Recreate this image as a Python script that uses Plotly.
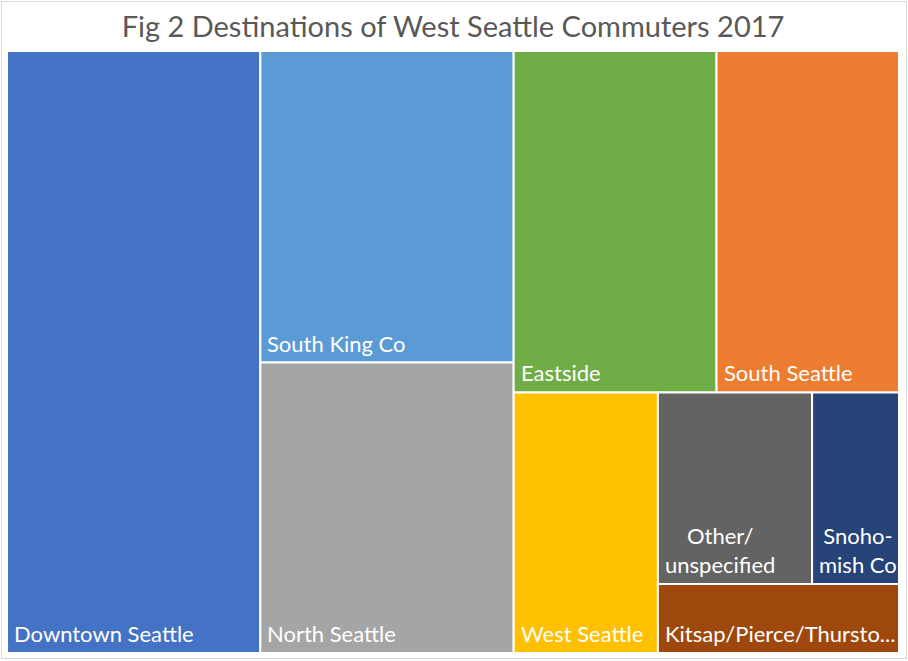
import plotly.graph_objects as go

# ---- data ----
categories = ["Downtown Seattle", "South King Co", "North Seattle", "Eastside",
              "South Seattle", "West Seattle", "Other/unspecified", "Snohomish Co",
              "Kitsap/Pierce/Thurston"]
values = [28.4, 14.7, 13.7, 12.9, 11.6, 7.0, 5.5, 3.1, 3.1]
display_labels = ["Downtown Seattle", "South King Co", "North Seattle", "Eastside",
                  "South Seattle", "West Seattle", "Other/<br>unspecified", "Snoho-<br>mish Co",
                  "Kitsap/Pierce/Thursto..."]
colors = ["#4472C4", "#5B9BD5", "#A5A5A5", "#70AD47", "#ED7D31",
          "#FFC000", "#636363", "#264478", "#9E480E"]
# number of items placed in each successive strip of the layout
strip_sizes = [1, 2, 2, 1, 2, 1]

# ---- figure geometry ----
W_PX, H_PX = 908, 661
ML, MR, MT, MB = 7, 9, 51, 8
plot_w = W_PX - ML - MR
plot_h = H_PX - MT - MB
X_MAX, Y_MAX = plot_w / plot_h, 1.0
scale = X_MAX * Y_MAX / sum(values)

# ---- strip-based treemap layout computed from the values ----
rects = []
x0, y0, x1, y1 = 0.0, 0.0, X_MAX, Y_MAX
i = 0
for n in strip_sizes:
    group = values[i:i + n]
    area = sum(group) * scale
    w, h = x1 - x0, y1 - y0
    if h <= w:
        thick = area / h
        cy = y0
        for v in group:
            hh = v * scale / thick
            rects.append((x0, cy, x0 + thick, cy + hh))
            cy += hh
        x0 += thick
    else:
        thick = area / w
        cx = x0
        for v in group:
            ww = v * scale / thick
            rects.append((cx, y0, cx + ww, y0 + thick))
            cx += ww
        y0 += thick
    i += n

fig = go.Figure()
annotations = []
FONT = "Lato, 'Open Sans', sans-serif"
for (rx0, ry0, rx1, ry1), cat, lab, col, val in zip(rects, categories, display_labels, colors, values):
    fig.add_trace(go.Scatter(
        x=[rx0, rx1, rx1, rx0, rx0], y=[ry0, ry0, ry1, ry1, ry0],
        mode="lines", fill="toself", fillcolor=col,
        line=dict(color="white", width=2),
        name=cat, text=f"{cat}: {val}", hoverinfo="text", showlegend=False))
    multi = "<br>" in lab
    annotations.append(dict(
        x=rx0, y=ry1, xref="x", yref="y", text=lab, showarrow=False,
        xanchor="left", yanchor="bottom", align="center" if multi else "left",
        xshift=5, yshift=4,
        font=dict(family=FONT, size=22, color="white")))

# light outer chart border
border_x0 = (1.5 - ML) / plot_w
border_x1 = (906.5 - ML) / plot_w
border_yt = (H_PX - MB - 1.5) / plot_h
border_yb = (H_PX - MB - 658.5) / plot_h

fig.update_layout(
    width=W_PX, height=H_PX, autosize=False,
    margin=dict(l=ML, r=MR, t=MT, b=MB, pad=0),
    paper_bgcolor="white", plot_bgcolor="white",
    title=dict(text="Fig 2 Destinations of West Seattle Commuters 2017",
               x=0.5, xanchor="center", xref="paper",
               y=1 - 27 / H_PX, yref="container", yanchor="middle",
               font=dict(family=FONT, size=29, color="#595959")),
    xaxis=dict(range=[0, X_MAX], visible=False, fixedrange=True),
    yaxis=dict(range=[Y_MAX, 0], visible=False, fixedrange=True),
    annotations=annotations,
    shapes=[dict(type="rect", xref="paper", yref="paper",
                 x0=border_x0, x1=border_x1, y0=border_yb, y1=border_yt,
                 line=dict(color="#D9D9D9", width=1), layer="below")],
    showlegend=False,
)

fig.write_html("out.html", config={"displayModeBar": False},
               post_script="document.body.style.margin='0';")
